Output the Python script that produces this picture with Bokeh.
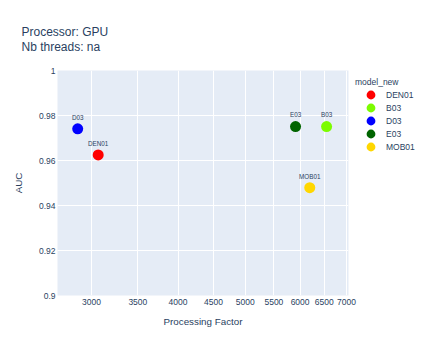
from bokeh.plotting import figure
from bokeh.models import (ColumnDataSource, Legend, LegendItem,
                          FixedTicker, Range1d)
from bokeh.embed import file_html
from bokeh.resources import INLINE
from bokeh.core.properties import value

# ---- data ----
models = ["DEN01", "B03", "D03", "E03", "MOB01"]
processing_factor = [3068, 6552, 2866, 5910, 6196]
auc = [0.9625, 0.9751, 0.9741, 0.9751, 0.9479]
colors = ["#FF0000", "#7CFC00", "#0000FF", "#006400", "#FFD700"]

x_ticks = [3000, 3500, 4000, 4500, 5000, 5500, 6000, 6500, 7000]
x_tick_labels = ["3000", "3500", "4000", "4500", "5000", "5500", "6000", "6500", "7000"]
y_ticks = [0.9, 0.92, 0.94, 0.96, 0.98, 1.0]
y_tick_labels = ["0.9", "0.92", "0.94", "0.96", "0.98", "1"]

title_lines = ["Processor: GPU", "Nb threads: na"]
x_title = "Processing Factor"
y_title = "AUC"
legend_title = "model_new"

FONT = "Liberation Sans"
TXT = "#2a3f5f"

p = figure(frame_width=291, frame_height=225, x_axis_type="log",
           x_range=Range1d(2680, 7047), y_range=Range1d(0.9, 1.0),
           output_backend="svg", toolbar_location=None,
           min_border_left=57, min_border_right=10,
           min_border_top=70, min_border_bottom=55)

p.background_fill_color = "#E5ECF6"
p.border_fill_color = "white"
p.outline_line_color = None

# two-line title, top-left
p.title.text = "\n".join(title_lines)
p.title.text_font = FONT
p.title.text_font_size = "12px"
p.title.text_font_style = "normal"
p.title.text_color = TXT
p.title.align = "left"
p.title.offset = -36
p.title.standoff = 33
p.title.text_line_height = 1.1

# grid
p.xgrid.ticker = FixedTicker(ticks=x_ticks)
p.ygrid.ticker = FixedTicker(ticks=y_ticks)
for g in (p.xgrid, p.ygrid):
    g.grid_line_color = "white"
    g.grid_line_width = 1
    g.minor_grid_line_color = None

# axes
p.xaxis.ticker = FixedTicker(ticks=x_ticks)
p.yaxis.ticker = FixedTicker(ticks=y_ticks)
p.xaxis.major_label_overrides = {t: l for t, l in zip(x_ticks, x_tick_labels)}
p.yaxis.major_label_overrides = {t: l for t, l in zip(y_ticks, y_tick_labels)}
p.xaxis.axis_label = x_title
p.yaxis.axis_label = y_title
for ax in (p.xaxis, p.yaxis):
    ax.axis_line_color = None
    ax.major_tick_line_color = None
    ax.minor_tick_line_color = None
    ax.major_tick_out = 0
    ax.major_tick_in = 0
    ax.major_label_text_font = FONT
    ax.major_label_text_font_size = "8.5px"
    ax.major_label_text_color = TXT
    ax.axis_label_text_font = FONT
    ax.axis_label_text_font_size = "9.8px"
    ax.axis_label_text_font_style = "normal"
    ax.axis_label_text_color = TXT
p.xaxis.major_label_standoff = 3
p.yaxis.major_label_standoff = 2
p.xaxis.axis_label_standoff = 8
p.yaxis.axis_label_standoff = 12

# points
items = []
for m, xv, yv, c in zip(models, processing_factor, auc, colors):
    src = ColumnDataSource(dict(x=[xv], y=[yv], name=[m]))
    r = p.ellipse("x", "y", source=src, width=11, height=11,
                  width_units="screen", height_units="screen",
                  fill_color=c, line_color=None)
    p.text("x", "y", text="name", source=src, y_offset=-11.6,
           text_align="center", text_baseline="middle",
           text_font=value(FONT), text_font_size="6.3px", text_color=TXT)
    items.append(LegendItem(label=m, renderers=[r]))

legend = Legend(items=items, title=legend_title, location="top_left",
                margin=7, padding=5, spacing=0,
                glyph_width=31, glyph_height=11, label_height=13,
                label_standoff=0, title_standoff=1,
                label_text_font=FONT, label_text_font_size="8.5px",
                label_text_color=TXT,
                title_text_font=FONT, title_text_font_size="8.5px",
                title_text_color=TXT, title_text_font_style="normal",
                border_line_color=None, background_fill_alpha=0)
p.add_layout(legend, "right")

open("out.html", "w").write(file_html(p, INLINE))
